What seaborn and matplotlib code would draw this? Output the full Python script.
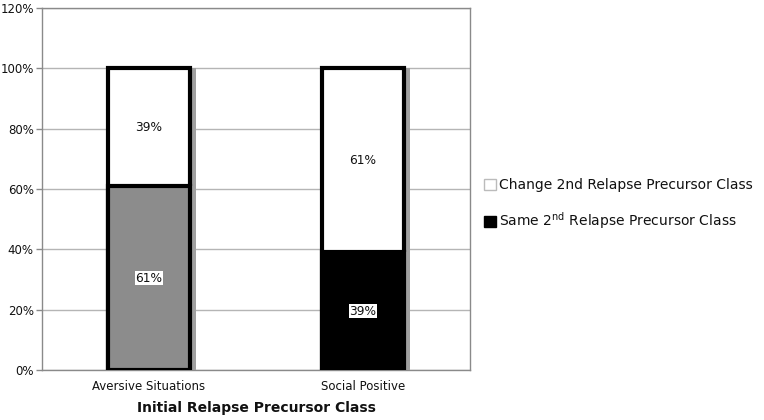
import matplotlib
matplotlib.use("Agg")
import matplotlib.pyplot as plt
import seaborn as sns
import pandas as pd
from matplotlib.patches import Patch
from matplotlib.patheffects import SimplePatchShadow, Normal
from matplotlib.ticker import FuncFormatter

categories = ["Aversive Situations", "Social Positive"]
same_pct = [61, 39]
change_pct = [39, 61]
same_colors = ["#8c8c8c", "#000000"]
yticks = [0, 20, 40, 60, 80, 100, 120]

sns.set_theme(style="white")
plt.rcParams['font.family'] = ['DejaVu Sans']

df = pd.DataFrame({"cat": categories, "same": same_pct,
                   "total": [s + c for s, c in zip(same_pct, change_pct)]})

fig = plt.figure(figsize=(7.64, 4.2), dpi=100)
ax = fig.add_axes([0.055, 0.119, 0.56, 0.862])

shadow = [SimplePatchShadow(offset=(4.6, 0), shadow_rgbFace="#a0a0a0", alpha=1), Normal()]

sns.barplot(data=df, x="cat", y="total", ax=ax, color="white", edgecolor="black",
            linewidth=3, width=0.38, saturation=1, zorder=3)
n_top = len(ax.patches)
for p in ax.patches:
    p.set_path_effects(shadow)
sns.barplot(data=df, x="cat", y="same", ax=ax, hue="cat", palette=same_colors,
            edgecolor="black", linewidth=3, width=0.38, saturation=1, legend=False, zorder=4)
for p in ax.patches[n_top:]:
    p.set_path_effects(shadow)

for i, (s, c) in enumerate(zip(same_pct, change_pct)):
    ax.text(i, s + c / 2, f"{c}%", ha="center", va="center", fontsize=8.8, color="#111111", zorder=6)
    ax.text(i, s / 2, f"{s}%", ha="center", va="center", fontsize=8.8, color="#111111", zorder=6,
            bbox=dict(boxstyle="square,pad=0.05", fc="white", ec="none"))

ax.set_ylim(0, 120)
ax.set_xlim(-0.5, 1.5)
ax.set_yticks(yticks)
ax.yaxis.set_major_formatter(FuncFormatter(lambda v, _: f"{v:.0f}%"))
ax.grid(axis="y", color="#b5b5b5", linewidth=1, zorder=0)
ax.set_axisbelow(True)
for sp in ax.spines.values():
    sp.set_color("#8a8a8a")
    sp.set_linewidth(1)
ax.tick_params(axis="y", left=True, length=4, width=1, color="#8a8a8a", labelsize=8.5,
               labelcolor="#111111", pad=2)
ax.tick_params(axis="x", bottom=False, labelsize=8.5, labelcolor="#111111", pad=1)
ax.set_ylabel("")
ax.set_xlabel("Initial Relapse Precursor Class", fontsize=10, fontweight="bold", labelpad=6,
              color="#111111")

handles = [Patch(facecolor="white", edgecolor="#bbbbbb", label="Change 2nd Relapse Precursor Class"),
           Patch(facecolor="black", edgecolor="black", label="Same 2$^{\\mathrm{nd}}$ Relapse Precursor Class")]
fig.legend(handles=handles, loc="center left", bbox_to_anchor=(0.617, 0.512), frameon=False,
           fontsize=10, labelspacing=1.3, handlelength=0.9, handleheight=0.9, handletextpad=0.2,
           labelcolor="#111111")

fig.savefig("out.png", dpi=100)
